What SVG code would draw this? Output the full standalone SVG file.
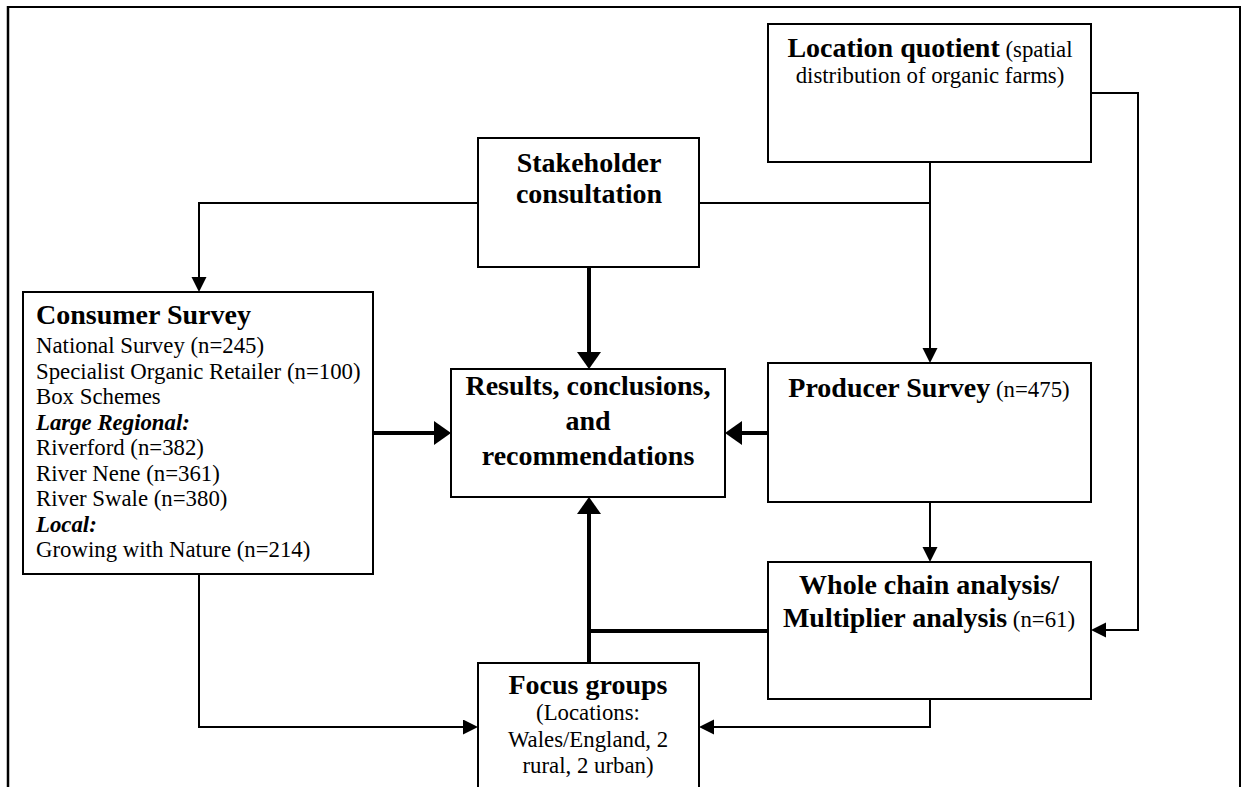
<svg xmlns="http://www.w3.org/2000/svg" width="1241" height="787" viewBox="0 0 1241 787">
<style>
.box{fill:#fff;stroke:#000;stroke-width:2}
.thin{fill:none;stroke:#000;stroke-width:2;stroke-linejoin:miter}
.thick{fill:none;stroke:#000;stroke-width:4;stroke-linejoin:miter}
.frame{fill:none;stroke:#000}
text{font-family:"Liberation Serif","Times New Roman",serif;fill:#000;font-size:22.8px}
.b{font-weight:bold;font-size:28px}
.bi{font-weight:bold;font-style:italic}
.c{text-anchor:middle}
</style>
<defs>
<marker id="at" markerUnits="userSpaceOnUse" markerWidth="16" markerHeight="16" refX="7" refY="7.5" orient="auto"><path d="M0,0 L15,7.5 L0,15 z" fill="#000"/></marker>
<marker id="ak" markerUnits="userSpaceOnUse" markerWidth="26" markerHeight="26" refX="9" refY="12" orient="auto"><path d="M0,0 L17,12 L0,24 z" fill="#000"/></marker>
</defs>
<rect x="0" y="0" width="1241" height="787" fill="#fff"/>
<g id="frame">
<path class="frame" d="M7,7 H1241" stroke-width="2"/>
<path class="frame" d="M8,6 V787" stroke-width="2.5"/>
<path class="frame" d="M1240,6 V787" stroke-width="2"/>
</g>
<g id="location-quotient">
<rect class="box" x="768" y="24" width="323" height="138"/>
<text class="c" x="930" y="57"><tspan class="b">Location quotient</tspan> (spatial</text>
<text class="c" x="930" y="83">distribution of organic farms)</text>
</g>
<g id="stakeholder">
<rect class="box" x="478" y="138" width="221" height="129"/>
<text class="c b" x="589" y="172">Stakeholder</text>
<text class="c b" x="589" y="203">consultation</text>
</g>
<g id="consumer-survey">
<rect class="box" x="23" y="292" width="350" height="282"/>
<text class="b" x="36" y="324">Consumer Survey</text>
<text x="36" y="353">National Survey (n=245)</text>
<text x="36" y="378.5">Specialist Organic Retailer (n=100)</text>
<text x="36" y="404">Box Schemes</text>
<text class="bi" x="36" y="429.5">Large Regional:</text>
<text x="36" y="455">Riverford (n=382)</text>
<text x="36" y="480.5">River Nene (n=361)</text>
<text x="36" y="506">River Swale (n=380)</text>
<text class="bi" x="36" y="531.5">Local:</text>
<text x="36" y="557">Growing with Nature (n=214)</text>
</g>
<g id="results">
<rect class="box" x="451" y="369" width="274" height="128"/>
<text class="c b" x="588" y="395">Results, conclusions,</text>
<text class="c b" x="588" y="430">and</text>
<text class="c b" x="588" y="465">recommendations</text>
</g>
<g id="producer-survey">
<rect class="box" x="768" y="363" width="323" height="139"/>
<text class="c" x="929" y="397"><tspan class="b">Producer Survey</tspan> (n=475)</text>
</g>
<g id="whole-chain">
<rect class="box" x="768" y="562" width="323" height="137"/>
<text class="c b" x="929" y="594">Whole chain analysis/</text>
<text class="c" x="929" y="627"><tspan class="b">Multiplier analysis</tspan> (n=61)</text>
</g>
<g id="focus-groups">
<rect class="box" x="478" y="663" width="221" height="140"/>
<text class="c b" x="588" y="694">Focus groups</text>
<text class="c" x="588" y="720">(Locations:</text>
<text class="c" x="588" y="747">Wales/England, 2</text>
<text class="c" x="588" y="773">rural, 2 urban)</text>
</g>
<g id="connectors">
<path class="thin" d="M478,203 H199 V284" marker-end="url(#at)"/>
<path class="thin" d="M699,203 H930"/>
<path class="thin" d="M930,162 V355" marker-end="url(#at)"/>
<path class="thin" d="M1091,93 H1138 V630 H1099" marker-end="url(#at)"/>
<path class="thick" d="M589,267 V361" marker-end="url(#ak)"/>
<path class="thick" d="M373,433 H443" marker-end="url(#ak)"/>
<path class="thick" d="M768,433 H733" marker-end="url(#ak)"/>
<path class="thin" d="M930,502 V554" marker-end="url(#at)"/>
<path class="thick" d="M589,663 V505" marker-end="url(#ak)"/>
<path class="thick" d="M768,631 H589"/>
<path class="thin" d="M199,574 V727 H470" marker-end="url(#at)"/>
<path class="thin" d="M930,699 V727 H707" marker-end="url(#at)"/>
</g>
</svg>
